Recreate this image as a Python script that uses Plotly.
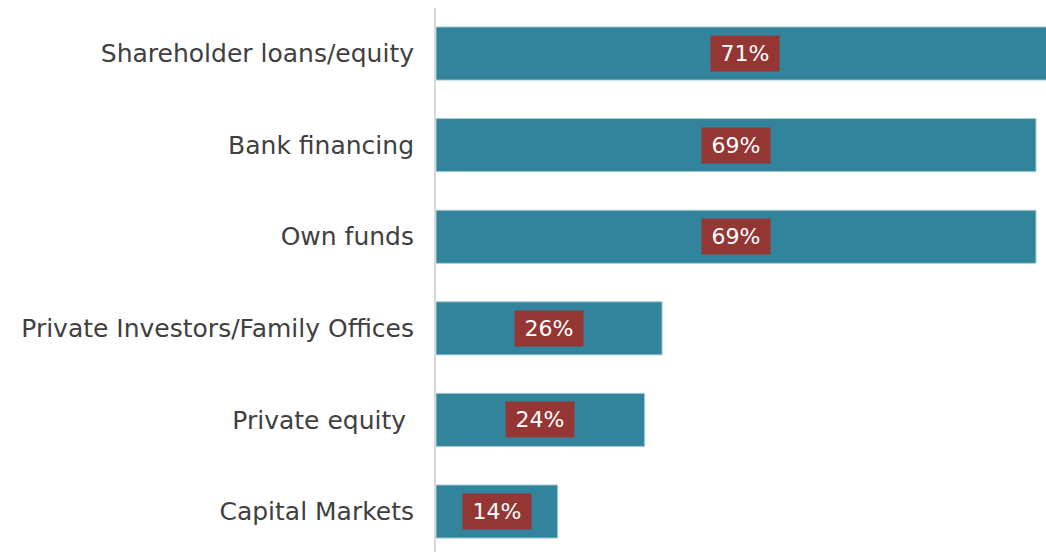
import plotly.graph_objects as go

categories = ["Shareholder loans/equity", "Bank financing", "Own funds",
              "Private Investors/Family Offices", "Private equity\u00a0", "Capital Markets"]
values = [71, 69, 69, 26, 24, 14]
labels = ["71%", "69%", "69%", "26%", "24%", "14%"]

BAR = "#31849B"
BOX = "#943634"
FONT = "DejaVu Sans"

fig = go.Figure()
fig.add_trace(go.Bar(
    x=values, y=categories, orientation="h",
    marker=dict(color=BAR, line=dict(color="#a9cdd7", width=1)),
    width=0.58, hoverinfo="skip",
))

for c, v, t in zip(categories, values, labels):
    fig.add_annotation(
        x=v / 2, y=c, xref="x", yref="y", text="\u2009" + t + "\u2009", showarrow=False,
        font=dict(family=FONT, size=22, color="white"),
        bgcolor=BOX, borderpad=5, xanchor="center", yanchor="middle",
    )

fig.update_layout(
    width=1046, height=552,
    margin=dict(l=436, r=0, t=8, b=0),
    paper_bgcolor="white", plot_bgcolor="white",
    showlegend=False,
    xaxis=dict(range=[0, 70.15], visible=False, fixedrange=True),
    yaxis=dict(
        categoryorder="array", categoryarray=categories,
        range=[5.442, -0.497],
        showline=True, linecolor="#d9d9d9", linewidth=2,
        showgrid=False, zeroline=False, ticks="",
        ticklabelstandoff=15,
        tickfont=dict(family=FONT, size=25, color="#404040"),
    ),
)

fig.write_html(
    "out.html",
    config={"displayModeBar": False},
    post_script="document.body.style.margin='0';document.body.style.overflow='hidden';",
)
